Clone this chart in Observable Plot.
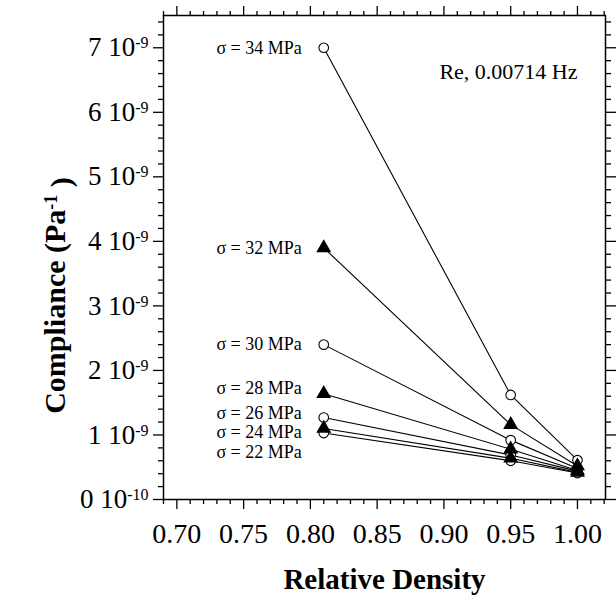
<!DOCTYPE html>
<html>
<head>
<meta charset="utf-8">
<script src="https://cdn.jsdelivr.net/npm/d3@7"></script>
<script src="https://cdn.jsdelivr.net/npm/@observablehq/plot@0.6"></script>
<style>
  body { margin: 0; background: #fff; }
  #chart svg { display: block; }
</style>
</head>
<body>
<div id="chart"></div>
<script>
// ---- data ----
const densities = [0.81, 0.95, 1.00];
const stresses = [34, 32, 30, 28, 26, 24, 22];
const markerKinds = ["circle", "triangle", "circle", "triangle", "circle", "triangle", "circle"];
const compliance34 = [7.00e-9, 1.62e-9, 0.61e-9];
const compliance32 = [3.90e-9, 1.16e-9, 0.52e-9];
const compliance30 = [2.40e-9, 0.92e-9, 0.48e-9];
const compliance28 = [1.64e-9, 0.78e-9, 0.45e-9];
const compliance26 = [1.27e-9, 0.69e-9, 0.44e-9];
const compliance24 = [1.10e-9, 0.64e-9, 0.42e-9];
const compliance22 = [1.03e-9, 0.60e-9, 0.41e-9];
const labelValues = [7.00e-9, 3.90e-9, 2.40e-9, 1.73e-9, 1.33e-9, 1.04e-9, 0.73e-9];
const xMajorTicks = [0.70, 0.75, 0.80, 0.85, 0.90, 0.95, 1.00];
const xMinorTicks = [0.69, 0.71, 0.72, 0.73, 0.74, 0.76, 0.77, 0.78, 0.79, 0.81, 0.82, 0.83, 0.84, 0.86, 0.87, 0.88, 0.89, 0.91, 0.92, 0.93, 0.94, 0.96, 0.97, 0.98, 0.99, 1.01, 1.02];
const yMajorTicks = [0, 1e-9, 2e-9, 3e-9, 4e-9, 5e-9, 6e-9, 7e-9];
const yTickMain = ["0 10", "1 10", "2 10", "3 10", "4 10", "5 10", "6 10", "7 10"];
const yTickExp = ["-10", "-9", "-9", "-9", "-9", "-9", "-9", "-9"];
const yMinorTicks = [0.2e-9, 0.4e-9, 0.6e-9, 0.8e-9, 1.2e-9, 1.4e-9, 1.6e-9, 1.8e-9, 2.2e-9, 2.4e-9, 2.6e-9, 2.8e-9, 3.2e-9, 3.4e-9, 3.6e-9, 3.8e-9, 4.2e-9, 4.4e-9, 4.6e-9, 4.8e-9, 5.2e-9, 5.4e-9, 5.6e-9, 5.8e-9, 6.2e-9, 6.4e-9, 6.6e-9, 6.8e-9, 7.2e-9, 7.4e-9];
const xLabel = "Relative Density";
const yLabel = "Compliance (Pa";
const yLabelExp = "-1";
const note = "Re, 0.00714 Hz";

// ---- build table ----
const seriesValues = [compliance34, compliance32, compliance30, compliance28, compliance26, compliance24, compliance22];
const rows = [];
stresses.forEach((s, k) => {
  densities.forEach((d, j) => rows.push({stress: s, kind: markerKinds[k], x: d, y: seriesValues[k][j]}));
});
const labels = stresses.map((s, k) => ({text: `σ = ${s} MPa`, x: densities[0], y: labelValues[k]}));

const serif = "'Liberation Serif', 'Times New Roman', serif";

const svg = Plot.plot({
  width: 616,
  height: 597,
  marginLeft: 163,
  marginRight: 11,
  marginTop: 15,
  marginBottom: 98,
  style: {fontFamily: serif, background: "#fff", color: "#000"},
  x: {domain: [0.69, 1.021]},
  y: {domain: [0, 7.5e-9]},
  marks: [
    // axes: bottom
    Plot.axisX({anchor: "bottom", ticks: xMajorTicks, tickSize: 10, tickPadding: 14, tickFormat: d3.format(".2f"), fontSize: 28, label: null, strokeWidth: 1.3}),
    Plot.axisX({anchor: "bottom", ticks: xMinorTicks, tickSize: 5, tickFormat: () => "", label: null, strokeWidth: 1.3}),
    // top
    Plot.axisX({anchor: "top", ticks: xMajorTicks, tickSize: 10, tickFormat: () => "", label: null, strokeWidth: 1.3}),
    Plot.axisX({anchor: "top", ticks: xMinorTicks, tickSize: 5, tickFormat: () => "", label: null, strokeWidth: 1.3}),
    // left
    Plot.axisY({anchor: "left", ticks: yMajorTicks, tickSize: 10, tickPadding: 5, tickFormat: (d, i) => yTickMain[i], fontSize: 27, label: null, strokeWidth: 1.3}),
    Plot.axisY({anchor: "left", ticks: yMinorTicks, tickSize: 5, tickFormat: () => "", label: null, strokeWidth: 1.3}),
    // right
    Plot.axisY({anchor: "right", ticks: yMajorTicks, tickSize: 10, tickFormat: () => "", label: null, strokeWidth: 1.3}),
    Plot.axisY({anchor: "right", ticks: yMinorTicks, tickSize: 5, tickFormat: () => "", label: null, strokeWidth: 1.3}),
    Plot.frame({stroke: "#000", strokeWidth: 1.5}),
    // data
    Plot.line(rows, {x: "x", y: "y", z: "stress", stroke: "#000", strokeWidth: 1.1}),
    Plot.dot(rows.filter(r => r.kind === "circle"), {x: "x", y: "y", r: 4.8, fill: "#fff", stroke: "#000", strokeWidth: 1.1}),
    Plot.dot(rows.filter(r => r.kind === "triangle"), {x: "x", y: "y", symbol: "triangle", r: 4.6, fill: "#000", stroke: "#000"}),
    // series labels
    Plot.text(labels, {x: "x", y: "y", text: "text", textAnchor: "end", dx: -22, fontSize: 18, fill: "#000"}),
    // note
    Plot.text([note], {frameAnchor: "top-right", dx: -28, dy: 56, fontSize: 22, textAnchor: "end", lineAnchor: "middle", fill: "#000"}),
    // axis titles
    Plot.text([xLabel], {frameAnchor: "bottom", dy: 80, lineAnchor: "middle", fontSize: 29, fontWeight: "bold", fill: "#000"}),
    Plot.text([yLabel], {frameAnchor: "left", dx: -108, dy: 38, rotate: -90, textAnchor: "middle", lineAnchor: "middle", fontSize: 30, fontWeight: "bold", fill: "#000", className: "ylab"})
  ]
});

// superscripts on y tick labels
const yTexts = d3.select(svg).selectAll('[aria-label="y-axis tick label"] text').nodes();
yTexts.forEach((node) => {
  const idx = yTickMain.indexOf(node.textContent);
  if (idx < 0) return;
  d3.select(node).append("tspan").attr("dy", "-0.5em").attr("font-size", "16px").text(yTickExp[idx]);
});
// superscript on y label
d3.select(svg).selectAll('.ylab text').each(function() {
  const t = d3.select(this);
  t.append("tspan").attr("dy", "-0.45em").attr("font-size", "18px").text(yLabelExp);
  t.append("tspan").attr("dy", "0.45em").text(" )");
});

document.getElementById("chart").append(svg);
</script>
</body>
</html>
